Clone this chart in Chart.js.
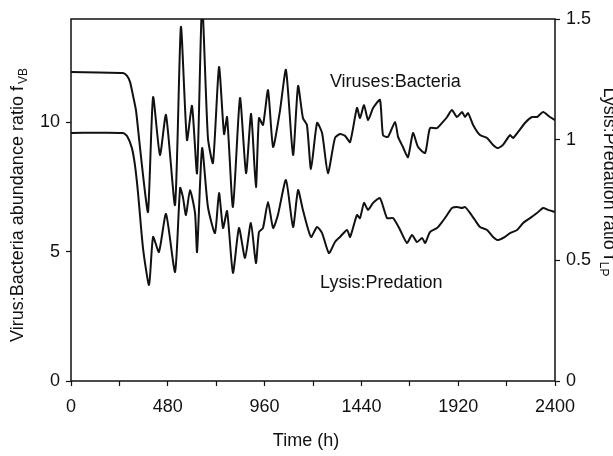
<!DOCTYPE html>
<html>
<head>
<meta charset="utf-8">
<title>Virus:Bacteria and Lysis:Predation ratios</title>
<script src="https://cdn.jsdelivr.net/npm/chart.js@4.4.1/dist/chart.umd.min.js"></script>
<style>
  html, body { margin: 0; padding: 0; background: #fff; }
  canvas { display: block; }
</style>
</head>
<body>
<canvas id="ratio-chart" width="613" height="456"></canvas>
<script>
// virus:bacteria abundance ratio (left axis)
const vbTime = [0, 258, 278, 293, 307, 322, 332, 357, 382, 407,
  441, 471, 516, 545, 575, 600, 625, 650, 679, 704,
  734, 759, 774, 803, 838, 868, 893, 917, 932, 952,
  977, 1002, 1036, 1066, 1101, 1126, 1150, 1170, 1190, 1220,
  1245, 1274, 1309, 1334, 1359, 1384, 1418, 1433, 1453, 1473,
  1498, 1532, 1547, 1572, 1607, 1622, 1646, 1671, 1696, 1721,
  1756, 1780, 1815, 1840, 1865, 1889, 1914, 1939, 1954, 1969,
  1994, 2028, 2063, 2093, 2118, 2142, 2177, 2192, 2217, 2251,
  2286, 2311, 2341, 2375, 2400];
const vbRatio = [11.95, 11.91, 11.80, 11.56, 11.06, 10.48, 9.78, 7.97, 6.54, 10.98,
  8.74, 10.29, 6.81, 13.69, 9.32, 10.64, 8.04, 14.6, 9.40, 8.43,
  12.14, 9.55, 10.21, 6.73, 10.94, 8.04, 10.33, 7.50, 10.17, 9.90,
  11.25, 9.05, 10.44, 12.03, 8.74, 11.41, 10.17, 9.90, 8.20, 9.98,
  9.59, 8.04, 9.40, 9.55, 9.48, 9.24, 10.56, 10.17, 10.67, 10.09,
  10.56, 10.87, 9.51, 9.44, 10.02, 9.44, 9.05, 8.66, 9.59, 9.05,
  8.82, 9.78, 9.78, 9.98, 10.21, 10.48, 10.21, 10.40, 10.21, 10.36,
  9.90, 9.51, 9.40, 9.13, 9.01, 9.13, 9.51, 9.40, 9.63, 9.98,
  10.21, 10.21, 10.40, 10.21, 10.09];

// lysis:predation ratio (right axis)
const lpTime = [0, 258, 278, 302, 317, 332, 357, 387, 407, 436,
  471, 516, 541, 555, 570, 590, 615, 625, 650, 679,
  714, 734, 754, 774, 803, 833, 863, 892, 917, 932,
  952, 977, 1002, 1026, 1066, 1101, 1126, 1150, 1190, 1220,
  1245, 1279, 1309, 1334, 1369, 1384, 1418, 1433, 1453, 1473,
  1498, 1532, 1567, 1597, 1632, 1666, 1691, 1716, 1741, 1756,
  1780, 1815, 1840, 1865, 1889, 1914, 1939, 1954, 1979, 2003,
  2028, 2063, 2093, 2118, 2152, 2177, 2212, 2242, 2276, 2311,
  2341, 2365, 2400];
const lpRatio = [1.028, 1.028, 1.015, 0.965, 0.895, 0.783, 0.551, 0.398, 0.597, 0.535,
  0.692, 0.452, 0.800, 0.762, 0.688, 0.791, 0.696, 0.535, 0.965, 0.721,
  0.613, 0.779, 0.634, 0.704, 0.448, 0.634, 0.510, 0.655, 0.489, 0.617,
  0.634, 0.742, 0.634, 0.688, 0.833, 0.638, 0.791, 0.709, 0.597, 0.638,
  0.613, 0.530, 0.576, 0.597, 0.626, 0.597, 0.688, 0.675, 0.738, 0.709,
  0.738, 0.758, 0.675, 0.675, 0.626, 0.572, 0.605, 0.576, 0.593, 0.572,
  0.617, 0.634, 0.659, 0.688, 0.717, 0.721, 0.717, 0.721, 0.696, 0.667,
  0.638, 0.626, 0.597, 0.584, 0.597, 0.613, 0.626, 0.655, 0.675, 0.696,
  0.717, 0.709, 0.700];

const timeTicks = [0, 480, 960, 1440, 1920, 2400];
const leftTicks = [0, 5, 10];
const rightTicks = [0, 0.5, 1, 1.5];

const FONT = 'Arial, "Liberation Sans", sans-serif';

function toPoints(xs, ys) {
  return xs.map((x, i) => ({ x: x, y: ys[i] }));
}

// text with a subscript tail, optionally rotated
function drawSubText(ctx, main, sub, cx, cy, angle) {
  ctx.save();
  ctx.translate(cx, cy);
  ctx.rotate(angle);
  ctx.fillStyle = '#111';
  ctx.textBaseline = 'middle';
  ctx.textAlign = 'left';
  ctx.font = '18px ' + FONT;
  const w1 = ctx.measureText(main).width;
  ctx.font = '12px ' + FONT;
  const w2 = ctx.measureText(sub).width;
  const start = -(w1 + w2 + 2) / 2;
  ctx.font = '18px ' + FONT;
  ctx.fillText(main, start, 0);
  ctx.font = '12px ' + FONT;
  ctx.fillText(sub, start + w1 + 2, 6);
  ctx.restore();
}

const framePlugin = {
  id: 'frame',
  afterDraw(chart) {
    const ctx = chart.ctx;
    const a = chart.chartArea;
    const xs = chart.scales.x, yl = chart.scales.yLeft, yr = chart.scales.yRight;
    ctx.save();
    ctx.strokeStyle = '#111';
    ctx.lineWidth = 1.5;
    ctx.strokeRect(a.left, a.top, a.right - a.left, a.bottom - a.top);

    // series names next to the curves
    ctx.fillStyle = '#111';
    ctx.font = '18px ' + FONT;
    ctx.textBaseline = 'middle';
    ctx.textAlign = 'left';
    ctx.fillText('Viruses:Bacteria', xs.getPixelForValue(1284), yl.getPixelForValue(11.56));
    ctx.fillText('Lysis:Predation', xs.getPixelForValue(1235), yr.getPixelForValue(0.405));

    ctx.textAlign = 'center';
    ctx.fillText('Time (h)', 306, 441);
    ctx.restore();

    drawSubText(ctx, 'Virus:Bacteria abundance ratio f', 'VB', 18, 205, -Math.PI / 2);
    drawSubText(ctx, 'Lysis:Predation ratio f', 'LP', 609, 182, Math.PI / 2);
  }
};

new Chart(document.getElementById('ratio-chart'), {
  type: 'line',
  data: {
    datasets: [{
      label: 'Viruses:Bacteria',
      data: toPoints(vbTime, vbRatio),
      yAxisID: 'yLeft',
      borderColor: '#111',
      borderWidth: 2,
      pointRadius: 0,
      fill: false,
      tension: 0.2
    }, {
      label: 'Lysis:Predation',
      data: toPoints(lpTime, lpRatio),
      yAxisID: 'yRight',
      borderColor: '#111',
      borderWidth: 2,
      pointRadius: 0,
      fill: false,
      tension: 0.2
    }]
  },
  options: {
    responsive: false,
    animation: false,
    layout: { padding: { top: 19, left: 0, right: 0, bottom: 0 } },
    plugins: {
      legend: { display: false },
      tooltip: { enabled: false }
    },
    scales: {
      x: {
        type: 'linear',
        min: 0,
        max: 2400,
        afterBuildTicks: s => { s.ticks = [0, 240, 480, 720, 960, 1200, 1440, 1680, 1920, 2160, 2400].map(v => ({ value: v })); },
        afterFit: s => { s.height = 75; },
        border: { display: false },
        grid: { drawOnChartArea: false, color: '#111', tickLength: 5, tickWidth: 1.2 },
        ticks: {
          color: '#111',
          font: { family: FONT, size: 18 },
          padding: 10,
          maxRotation: 0,
          autoSkip: false,
          callback: v => timeTicks.includes(v) ? String(v) : ''
        }
      },
      yLeft: {
        type: 'linear',
        position: 'left',
        min: 0,
        max: 14,
        afterBuildTicks: s => { s.ticks = leftTicks.map(v => ({ value: v })); },
        afterFit: s => { s.width = 71; },
        border: { display: false },
        grid: { drawOnChartArea: false, color: '#111', tickLength: 5, tickWidth: 1.2 },
        ticks: { color: '#111', font: { family: FONT, size: 18 }, padding: 6, callback: v => String(v) }
      },
      yRight: {
        type: 'linear',
        position: 'right',
        min: 0,
        max: 1.5,
        afterBuildTicks: s => { s.ticks = rightTicks.map(v => ({ value: v })); },
        afterFit: s => { s.width = 58; },
        border: { display: false },
        grid: { drawOnChartArea: false, color: '#111', tickLength: 5, tickWidth: 1.2 },
        ticks: { color: '#111', font: { family: FONT, size: 18 }, padding: 6, callback: v => String(v) }
      }
    }
  },
  plugins: [framePlugin]
});
</script>
</body>
</html>
